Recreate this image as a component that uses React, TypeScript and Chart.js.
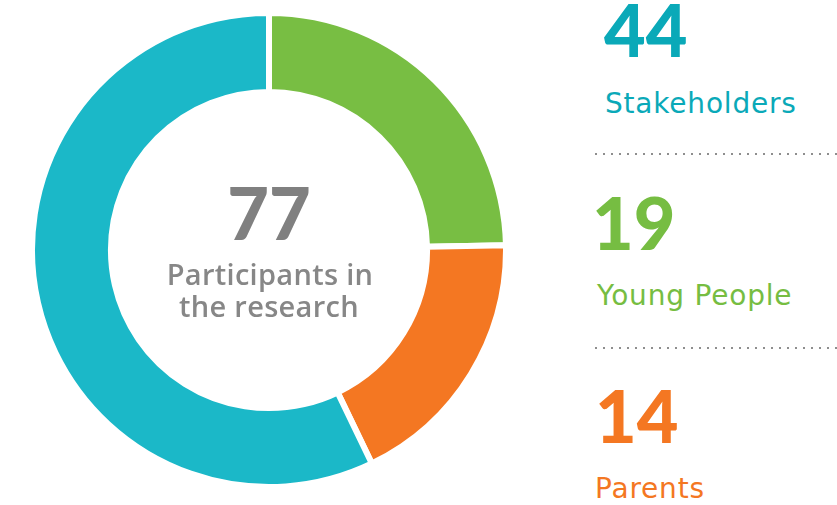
import React, { useEffect, useRef } from "react";
import { Chart, registerables } from "chart.js";

Chart.register(...registerables);

// ---- data ----
const categories = ["Young People", "Parents", "Stakeholders"];
const values = [19, 14, 44];
const ringColors = ["#78BE43", "#F47722", "#1BB8C8"];
const textColors = ["#76BD42", "#F47722", "#0AA9B8"];
const sideOrder = [2, 0, 1]; // Stakeholders, Young People, Parents
const centerLines = ["Participants in", "the research"];

const NUM_FONT = "900 72px Lato";
const LABEL_FONT = "400 28px 'DejaVu Sans'";
const CENTER_FONT = "600 29px 'Open Sans'";

const mctx = typeof document !== "undefined" ? document.createElement("canvas").getContext("2d") : null;
function ascentOf(font: string): number {
  if (!mctx) return 0;
  mctx.font = font;
  const m = mctx.measureText("Hg");
  return (m as any).fontBoundingBoxAscent ?? 0;
}

function Txt(props: { text: string; x: number; baseline: number; font: string; color: string; center?: boolean; spacing?: number }) {
  const { text, x, baseline, font, color, center, spacing } = props;
  const top = baseline - ascentOf(font);
  return (
    <div
      style={{
        position: "absolute",
        left: x,
        top,
        font,
        color,
        lineHeight: "normal",
        whiteSpace: "nowrap",
        letterSpacing: spacing ? spacing + "px" : undefined,
        transform: center ? "translateX(-50%)" : undefined,
      }}
    >
      {text}
    </div>
  );
}

function Dots(props: { y: number }) {
  return (
    <div
      style={{
        position: "absolute",
        left: 595,
        top: props.y,
        width: 242,
        height: 2,
        backgroundImage: "repeating-linear-gradient(to right, #8e8e8e 0 2px, transparent 2px 8px)",
      }}
    />
  );
}

export default function App() {
  const ref = useRef<HTMLCanvasElement | null>(null);

  useEffect(() => {
    if (!ref.current) return;
    const chart = new Chart(ref.current, {
      type: "doughnut",
      data: {
        labels: categories,
        datasets: [
          {
            data: values,
            backgroundColor: ringColors,
            borderColor: "#ffffff",
            borderWidth: 6,
            hoverOffset: 0,
          },
        ],
      },
      options: {
        responsive: false,
        animation: false,
        cutout: "66.7%",
        layout: { padding: 0 },
        plugins: {
          legend: { display: false },
          tooltip: { enabled: false },
        },
      },
    });
    return () => chart.destroy();
  }, []);

  const total = values.reduce((a, b) => a + b, 0);

  const numBaselines = [57, 250, 443];
  const labelBaselines = [113, 305, 498];
  const numX = [604, 592, 595];
  const labelX = [605, 597, 595];

  return (
    <div style={{ position: "fixed", left: 0, top: 0, width: 837, height: 505, background: "#fff", overflow: "hidden" }}>
      <canvas ref={ref} width={480} height={480} style={{ position: "absolute", left: 29, top: 10, width: 480, height: 480 }} />
      <Txt text={String(total)} x={269} baseline={240} font={NUM_FONT} color="#808080" center />
      <Txt text={centerLines[0]} x={270} baseline={285} font={CENTER_FONT} color="#878787" center spacing={0.3} />
      <Txt text={centerLines[1]} x={269} baseline={317} font={CENTER_FONT} color="#878787" center spacing={0.3} />
      {sideOrder.map((idx, i) => (
        <React.Fragment key={idx}>
          <Txt text={String(values[idx])} x={numX[i]} baseline={numBaselines[i]} font={NUM_FONT} color={textColors[idx]} />
          <Txt text={categories[idx]} x={labelX[i]} baseline={labelBaselines[i]} font={LABEL_FONT} color={textColors[idx]} spacing={0.8} />
        </React.Fragment>
      ))}
      <Dots y={153} />
      <Dots y={347} />
    </div>
  );
}
